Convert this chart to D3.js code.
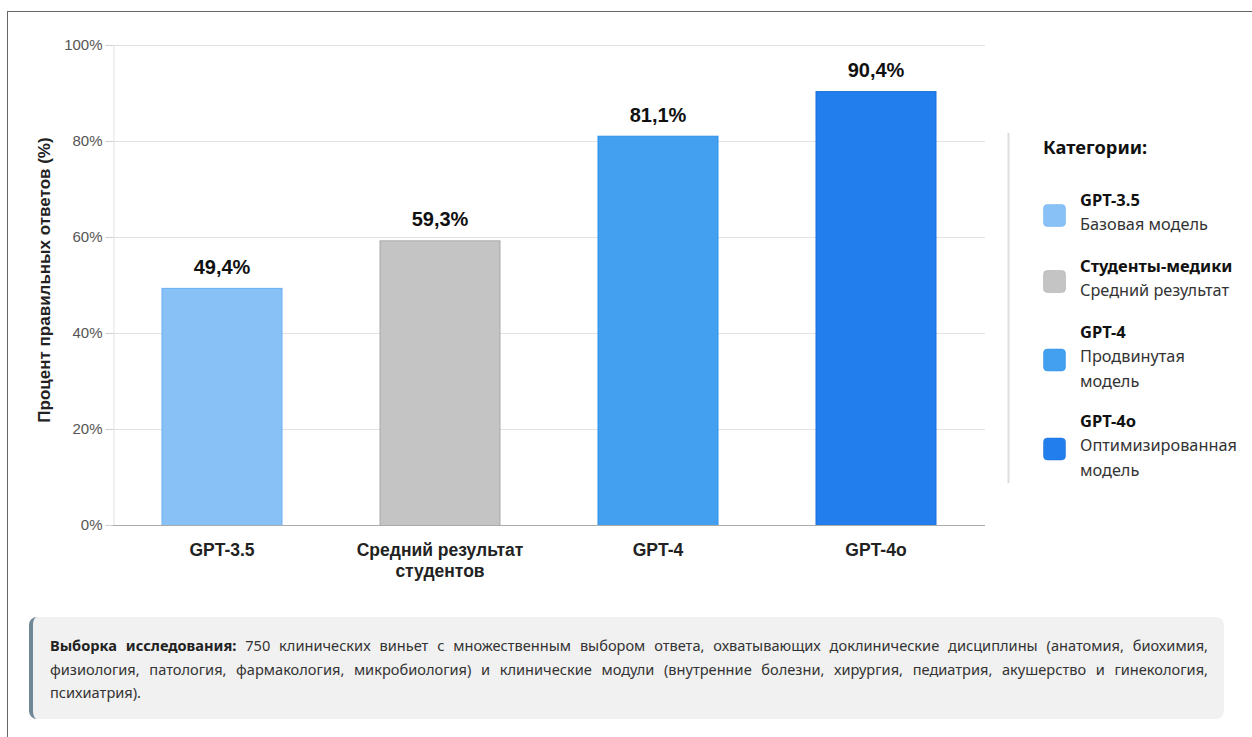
<!DOCTYPE html>
<html><head><meta charset="utf-8">
<script src="https://cdn.jsdelivr.net/npm/d3@7"></script>
<style>
html,body{margin:0;padding:0;background:#fff;width:1252px;height:737px;overflow:hidden;}
#frame{position:absolute;left:7px;top:11px;width:1260px;height:740px;border-left:1px solid #666;border-top:1px solid #666;}
#note{position:absolute;left:29px;top:617px;width:1195px;height:102px;box-sizing:border-box;background:#f1f1f1;border-left:4px solid #6f8797;border-radius:8px;padding:17px 16px 0 17px;font-family:"Noto Sans","Open Sans",sans-serif;font-size:14.6px;line-height:23.5px;color:#333;}
#note .j{text-align:justify;text-align-last:justify;}
#note b{color:#222;}
svg{position:absolute;left:0;top:0;}
</style></head>
<body>
<div id="frame"></div>
<svg id="chart" width="1252" height="600"></svg>
<div id="note"><div class="j"><b>Выборка исследования:</b> 750 клинических виньет с множественным выбором ответа, охватывающих доклинические дисциплины (анатомия, биохимия,</div><div class="j">физиология, патология, фармакология, микробиология) и клинические модули (внутренние болезни, хирургия, педиатрия, акушерство и гинекология,</div><div>психиатрия).</div></div>
<script>
const categories = ["GPT-3.5", "Средний результат студентов", "GPT-4", "GPT-4o"];
const xLabelLines = [["GPT-3.5"], ["Средний результат", "студентов"], ["GPT-4"], ["GPT-4o"]];
const values = [49.4, 59.3, 81.1, 90.4];
const valueLabels = ["49,4%", "59,3%", "81,1%", "90,4%"];
const barColors = ["#87c1f6", "#c4c4c4", "#43a0f1", "#227eec"];
const barStrokes = ["#6aaef0", "#a9a9a9", "#2f90e8", "#1b6fd8"];
const yTicks = [0, 20, 40, 60, 80, 100];
const legendNames = ["GPT-3.5", "Студенты-медики", "GPT-4", "GPT-4o"];
const legendDescs = [["Базовая модель"], ["Средний результат"], ["Продвинутая", "модель"], ["Оптимизированная", "модель"]];
const yTitle = "Процент правильных ответов (%)";
const legendTitle = "Категории:";

const svg = d3.select("#chart");
const m = {left:113, right:985, top:45, bottom:525};
const x = d3.scaleBand().domain(categories).range([m.left, m.right]).paddingInner(0.445).paddingOuter(0.2225);
const y = d3.scaleLinear().domain([0,100]).range([m.bottom, m.top]);
const sans = "'Liberation Sans', Arial, sans-serif";
const noto = "'Noto Sans','Open Sans',sans-serif";

// grid
svg.append("g").selectAll("line").data(yTicks.filter(d=>d>0)).join("line")
  .attr("x1", m.left).attr("x2", m.right)
  .attr("y1", d=>y(d)+0.5).attr("y2", d=>y(d)+0.5)
  .attr("stroke", "#e2e2e2").attr("stroke-width", 1);
// y axis
const ya = svg.append("g").attr("transform", `translate(${m.left+0.5},0)`)
  .call(d3.axisLeft(y).tickValues(yTicks).tickFormat(d=>d+"%").tickSize(8).tickPadding(3));
ya.select(".domain").attr("stroke", "#e2e2e2");
ya.selectAll(".tick line").attr("stroke", "#d0d0d0");
ya.selectAll("text").attr("font-family", sans).attr("font-size", 15).attr("fill", "#555");

// bars
svg.append("g").selectAll("rect").data(values).join("rect")
  .attr("x", (d,i)=>x(categories[i])+0.5)
  .attr("y", d=>y(d)+0.5)
  .attr("width", x.bandwidth()-1)
  .attr("height", d=>y(0)-y(d))
  .attr("fill", (d,i)=>barColors[i])
  .attr("stroke", (d,i)=>barStrokes[i]).attr("stroke-width", 1);

// x baseline
svg.append("line").attr("x1", m.left).attr("x2", m.right).attr("y1", y(0)+0.5).attr("y2", y(0)+0.5)
  .attr("stroke", "#aaa").attr("stroke-width", 1.2);

// value labels
svg.append("g").selectAll("text").data(values).join("text")
  .attr("x", (d,i)=>x(categories[i])+x.bandwidth()/2)
  .attr("y", d=>y(d)-14)
  .attr("text-anchor", "middle")
  .attr("font-family", sans).attr("font-weight", "bold").attr("font-size", 20).attr("fill", "#111")
  .text((d,i)=>valueLabels[i]);

// x labels
const xl = svg.append("g").selectAll("text").data(categories).join("text")
  .attr("x", d=>x(d)+x.bandwidth()/2).attr("y", 556)
  .attr("text-anchor", "middle")
  .attr("font-family", sans).attr("font-weight", "bold").attr("font-size", 17.5).attr("fill", "#222");
xl.each(function(d,i){
  const t = d3.select(this);
  xLabelLines[i].forEach((ln,j)=>t.append("tspan").attr("x", x(d)+x.bandwidth()/2).attr("dy", j?21:0).text(ln));
});

// y title
svg.append("text").attr("transform", `translate(50,280) rotate(-90)`)
  .attr("text-anchor", "middle")
  .attr("font-family", sans).attr("font-weight", "bold").attr("font-size", 17).attr("fill", "#222")
  .text(yTitle);

// legend
svg.append("line").attr("x1", 1008.5).attr("x2", 1008.5).attr("y1", 133).attr("y2", 483).attr("stroke", "#ddd").attr("stroke-width", 2);
svg.append("text").attr("x", 1043).attr("y", 154)
  .attr("font-family", noto).attr("font-weight", "bold").attr("font-size", 18.3).attr("fill", "#111").text(legendTitle);
const itemTop = [193, 259, 325, 414];
const lg = svg.append("g").selectAll("g").data(legendNames).join("g")
  .attr("transform", (d,i)=>`translate(1043,${itemTop[i]})`);
lg.append("rect").attr("x", 0.5).attr("y", (d,i)=>legendDescs[i].length*12.5-1.5+0.5).attr("width", 22).attr("height", 22).attr("rx", 4)
  .attr("fill", (d,i)=>barColors[i]).attr("stroke", (d,i)=>barStrokes[i]).attr("stroke-opacity", 0.5);
lg.append("text").attr("x", 37).attr("y", 13)
  .attr("font-family", noto).attr("font-weight", "bold").attr("font-size", 16.5).attr("fill", "#111").text(d=>d);
lg.each(function(d,i){
  const g = d3.select(this);
  legendDescs[i].forEach((ln,j)=>g.append("text").attr("x", 37).attr("y", 37+j*25)
    .attr("font-family", noto).attr("font-size", 16.3).attr("fill", "#333").text(ln));
});
</script>
</body></html>
